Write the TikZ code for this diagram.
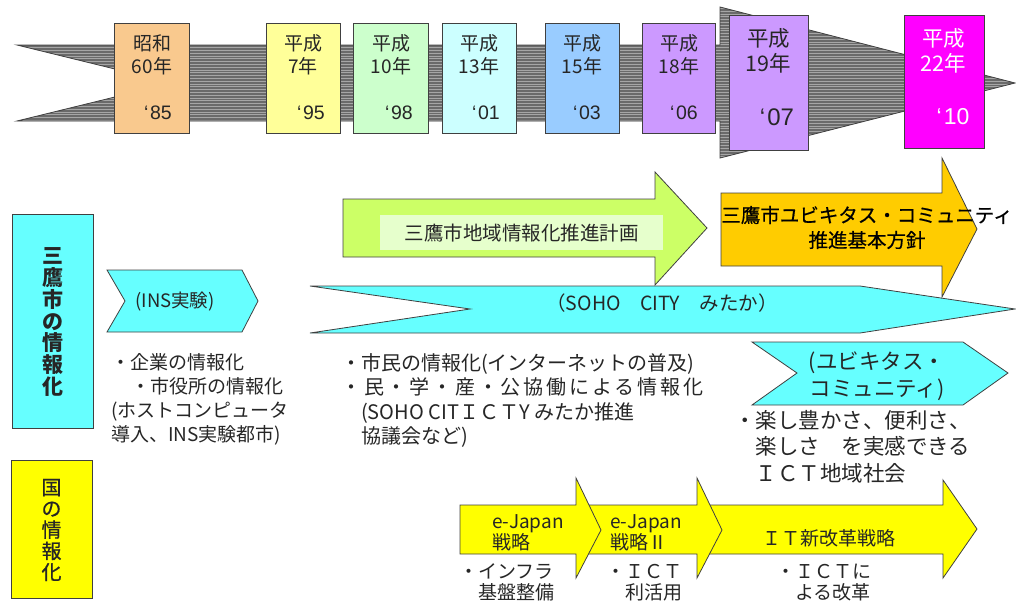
\documentclass[tikz,border=0pt]{standalone}
\usepackage{fontspec}
\setmainfont{Noto Sans CJK JP}
\newfontfamily\latf{Liberation Sans}
\newfontfamily\jpsb[FakeBold=0.6]{Noto Sans CJK JP}
\makeatletter
\def\sprd@loop#1#2\sprd@end{#1\if\relax\detokenize{#2}\relax\else\hfil\sprd@loop#2\sprd@end\fi}
\newcommand\spreadto[2]{\makebox[#1][s]{\sprd@loop#2\sprd@end}}
\makeatother
\newcommand\fsz[2]{\fontsize{#1pt}{#2pt}\selectfont}
\definecolor{linegray}{HTML}{404040}
\definecolor{txtgray}{HTML}{262626}
\definecolor{bandgray}{HTML}{6A6A6A}
\definecolor{bandline}{HTML}{A6A6A6}
\definecolor{cOrange}{HTML}{F9C98E}
\definecolor{cYel}{HTML}{FFFF99}
\definecolor{cGreen}{HTML}{CCFFCC}
\definecolor{cLCyan}{HTML}{CCFFFF}
\definecolor{cBlue}{HTML}{99CCFF}
\definecolor{cPurple}{HTML}{CC99FF}
\definecolor{cMag}{HTML}{FF00FF}
\definecolor{cCyan}{HTML}{66FFFF}
\definecolor{cLime}{HTML}{CCFF66}
\definecolor{cLimeIn}{HTML}{E6FFCC}
\definecolor{cGold}{HTML}{FFCC00}
\definecolor{cYellow}{HTML}{FFFF00}
\tikzset{
  outl/.style={draw=linegray, line width=0.8pt, line join=miter},
  ybox/.style={outl, rectangle, inner sep=0pt},
  txt/.style={inner sep=0pt, text=txtgray},
  yr/.style={txt, font=\latf\fsz{19.5}{22}},
}
\begin{document}
\begin{tikzpicture}[x=1pt,y=-1pt]
\useasboundingbox (0,0) rectangle (1016,603);

% ---------- timeline band ----------
\begin{scope}
\clip (17,45) -- (720,45) -- (720,7) -- (1015,83) -- (720,158) -- (720,121) -- (17,121) -- (172,83) -- cycle;
\fill[bandgray] (0,0) rectangle (1016,165);
\foreach \yy in {5.5,8.3,...,162} \draw[bandline, line width=0.8pt] (0,\yy) -- (1016,\yy);
\end{scope}
\draw[outl] (17,45) -- (720,45) -- (720,7) -- (1015,83) -- (720,158) -- (720,121) -- (17,121) -- (172,83) -- cycle;

% ---------- year boxes ----------
\node[ybox, fill=cOrange, minimum width=75pt, minimum height=110pt] (b85) at (151.5,78) {};
\node[ybox, fill=cYel, minimum width=74pt, minimum height=110pt] (b95) at (303,78) {};
\node[ybox, fill=cGreen, minimum width=75pt, minimum height=110pt] (b98) at (390.5,78) {};
\node[ybox, fill=cLCyan, minimum width=74pt, minimum height=110pt] (b01) at (479,78) {};
\node[ybox, fill=cBlue, minimum width=74pt, minimum height=110pt] (b03) at (582,78) {};
\node[ybox, fill=cPurple, minimum width=73pt, minimum height=110pt] (b06) at (678.5,78) {};
\node[ybox, fill=cPurple, minimum width=79pt, minimum height=135pt] (b07) at (768.5,82.5) {};
\node[ybox, fill=cMag, minimum width=80pt, minimum height=133pt] (b10) at (944,81.5) {};

\tikzset{ylab/.style={txt, align=center, font=\fsz{19}{23}}}
\node[ylab] (t85) at (152,54.5) {昭和\\60年};
\node[yr] (q85) at (158,113) {‘\kern1.5pt85};
\node[ylab] (t95) at (303,54.5) {平成\\7年};
\node[yr] (q95) at (311,113) {‘\kern1.5pt95};
\node[ylab] (t98) at (391,54.5) {平成\\10年};
\node[yr] (q98) at (399,113) {‘\kern1.5pt98};
\node[ylab] (t01) at (479,54.5) {平成\\13年};
\node[yr] (q01) at (486,113) {‘\kern1.5pt01};
\node[ylab] (t03) at (582,54.5) {平成\\15年};
\node[yr] (q03) at (587,113) {‘\kern1.5pt03};
\node[ylab] (t06) at (679,54.5) {平成\\18年};
\node[yr] (q06) at (684,113) {‘\kern1.5pt06};
\node[txt, align=center, font=\fsz{21.5}{25}] (t07) at (768.5,50.5) {平成\\19年};
\node[txt, font=\latf\fsz{24}{26}] (q07) at (777,117) {‘\kern2pt07};
\node[txt, align=center, font=\fsz{21.5}{25}, text=white] (t10) at (943.5,50.5) {平成\\22年};
\node[txt, font=\latf\fsz{23}{26}, text=white] (q10) at (953,117) {‘\kern2pt10};

% ---------- left category boxes ----------
\node[ybox, fill=cCyan, minimum width=81pt, minimum height=214pt] (mitaka) at (52.5,321) {};
\node[txt, align=center, font=\bfseries\fsz{21}{21.7}] (mitakat) at (52.5,322) {三\\鷹\\市\\の\\情\\報\\化};
\node[ybox, fill=cYellow, minimum width=81pt, minimum height=138pt] (kuni) at (51.5,529) {};
\node[txt, align=center, font=\jpsb\fsz{20}{21.2}] (kunit) at (51.5,530) {国\\の\\情\\報\\化};

% ---------- INS chevron ----------
\draw[outl, fill=cCyan] (107,270) -- (242,270) -- (258,301) -- (242,332) -- (107,332) -- (125,301) -- cycle;
\node[txt, font=\fsz{18.5}{22}] (ins) at (175,302) {(INS実験)};
\node[txt, anchor=west, align=left, font=\fsz{19}{24}] (insb) at (111,399)
  {・企業の情報化\\\hspace*{20pt}・市役所の情報化\\(ホストコンピュータ\\導入、INS実験都市)};

% ---------- SOHO arrow ----------
\draw[outl, fill=cCyan] (310,286) -- (860,286) -- (1015,309) -- (860,333) -- (310,333) -- (470,309) -- cycle;
\node[txt, font=\fsz{19.5}{22}] (soho) at (662,303) {（SOHO　CITY　みたか）};

% ---------- green arrow ----------
\draw[outl, fill=cLime] (343,199) -- (655,199) -- (655,172) -- (707,228) -- (655,285) -- (655,257) -- (343,257) -- cycle;
\fill[cLimeIn] (380,215) rectangle (663,250);
\node[txt, font=\fsz{19.5}{22}] (plan) at (521.5,233) {三鷹市地域情報化推進計画};

% ---------- orange arrow ----------
\draw[outl, fill=cGold] (721,193) -- (942,193) -- (942,158) -- (977,229) -- (942,297) -- (942,266) -- (721,266) -- cycle;
\node[txt, align=center, font=\jpsb\fsz{19.5}{25}, text=black] (ubiq) at (867,227.5) {三鷹市ユビキタス・コミュニティ\\推進基本方針};

% ---------- middle bullets ----------
\node[txt, anchor=west, align=left, font=\fsz{20}{24.3}] (midb) at (341,400.5)
  {・市民の情報化(インターネットの普及)\\\spreadto{362pt}{・民・学・産・公協働による情報化}\\\hspace*{20pt}(SOHO CITＩＣＴY みたか推進\\\hspace*{20pt}協議会など)};

% ---------- ubiquitous chevron ----------
\draw[outl, fill=cCyan] (752,342) -- (963,342) -- (1008,373) -- (963,405) -- (752,405) -- (797,373) -- cycle;
\node[txt, align=center, font=\fsz{21.5}{27.5}] (ubc) at (877,376) {(ユビキタス・\\コミュニティ)};
\node[txt, anchor=west, align=left, font=\fsz{21.5}{26.5}] (rightb) at (734,446.5)
  {・楽し豊かさ、便利さ、\\\hspace*{21.5pt}楽しさ　を実感できる\\\hspace*{21.5pt}ＩＣＴ地域社会};

% ---------- national arrows ----------
\draw[outl, fill=cYellow] (705,505) -- (943,505) -- (943,480) -- (977,529) -- (943,578) -- (943,554) -- (705,554) -- cycle;
\draw[outl, fill=cYellow] (585,505) -- (697,505) -- (697,478) -- (722,530) -- (697,578) -- (697,554) -- (585,554) -- cycle;
\draw[outl, fill=cYellow] (460,505) -- (576,505) -- (576,478) -- (601,530) -- (576,578) -- (576,554) -- (460,554) -- cycle;
\node[txt, anchor=west, align=left, font=\fsz{19}{21}] (ej1) at (492,532.5) {e-Japan\\戦略};
\node[txt, anchor=west, align=left, font=\fsz{19}{21}] (ej2) at (610,532.5) {e-Japan\\戦略Ⅱ};
\node[txt, font=\fsz{19}{22}] (itn) at (829,538) {ＩＴ新改革戦略};
\node[txt, anchor=west, align=left, font=\fsz{19}{21}] (nb1) at (459,582.5) {・インフラ\\\hspace*{19pt}基盤整備};
\node[txt, anchor=west, align=left, font=\fsz{19}{21}] (nb2) at (606,582.5) {・ＩＣＴ\\\hspace*{19pt}利活用};
\node[txt, anchor=west, align=left, font=\fsz{19}{21}] (nb3) at (776,582.5) {・ＩＣＴに\\\hspace*{19pt}よる改革};
\end{tikzpicture}
\end{document}
